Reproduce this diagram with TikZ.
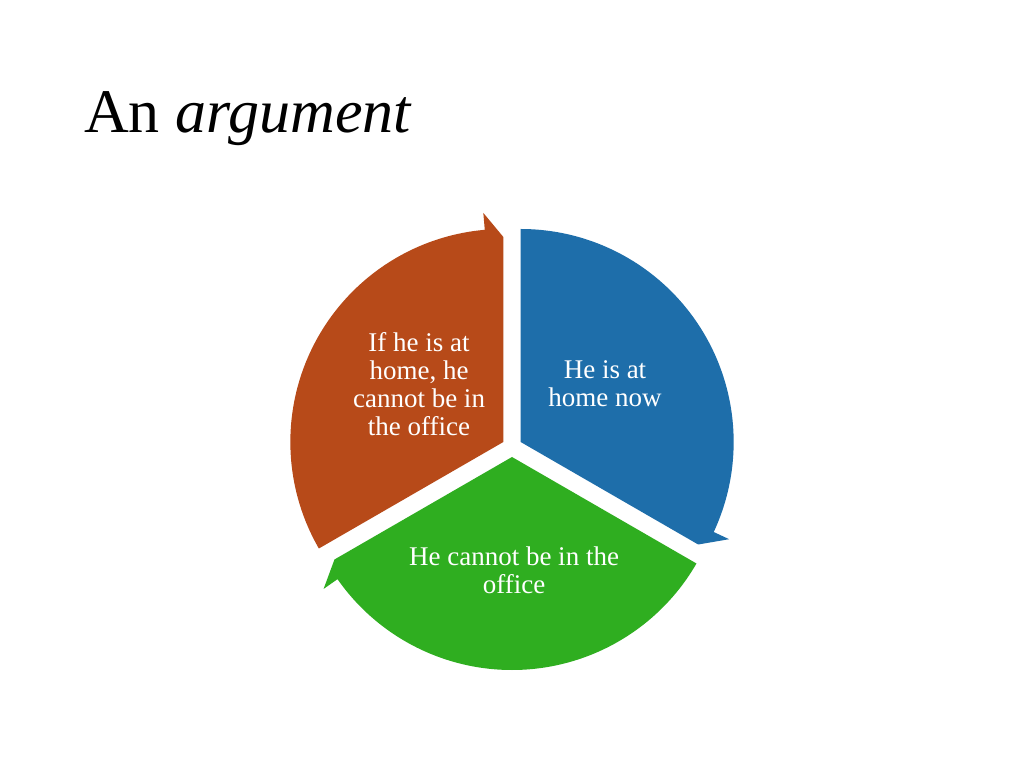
\documentclass[tikz,border=0pt]{standalone}
\usepackage{fontspec}
\setmainfont{Liberation Serif}
\definecolor{segorange}{RGB}{183,74,25}
\definecolor{segblue}{RGB}{30,110,170}
\definecolor{seggreen}{RGB}{47,174,32}
\tikzset{
  segtext/.style={text=white, align=center, font=\fontsize{27}{28}\selectfont, inner sep=0pt},
  titletext/.style={anchor=base west, inner sep=0pt, font=\fontsize{62}{70}\selectfont}
}
\newcommand{\pieseg}[3]{% center, start angle, colour
  \begin{scope}[shift={#1}]
    \fill[#3] (0,0) -- (#2:213) arc[start angle=#2, end angle=#2-115, radius=213]
      -- (#2-115:230) -- (#2-120:205) -- cycle;
  \end{scope}}
\begin{document}
\begin{tikzpicture}[x=1pt,y=1pt]
\useasboundingbox[fill=white] (0,0) rectangle (1024,768);
\pieseg{(520.66,326)}{90}{segblue}
\pieseg{(512,311)}{-30}{seggreen}
\pieseg{(503.34,326)}{210}{segorange}
\node[titletext] (title) at (84,635) {An \textit{argument}};
\node[segtext] (t1) at (419,384) {If he is at\\home, he\\cannot be in\\the office};
\node[segtext] (t2) at (605,384) {He is at\\home now};
\node[segtext] (t3) at (514,198) {He cannot be in the\\office};
\end{tikzpicture}
\end{document}
